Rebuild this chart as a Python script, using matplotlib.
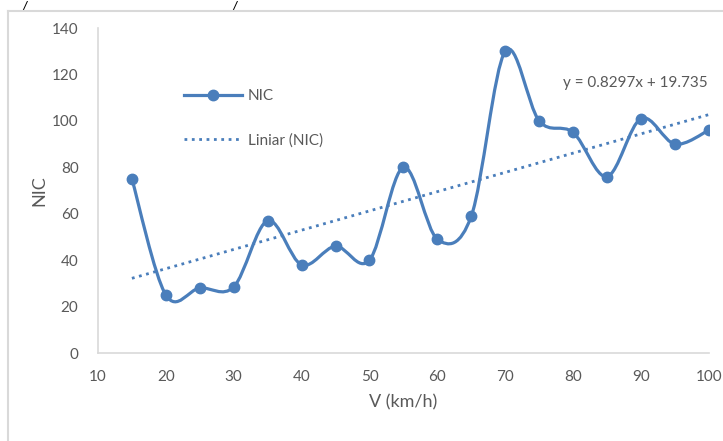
import matplotlib.pyplot as plt
import numpy as np
from matplotlib.path import Path
from matplotlib.patches import PathPatch
from matplotlib.lines import Line2D

plt.rcParams['font.family'] = ['Lato', 'DejaVu Sans']

# data
speed = [15, 20, 25, 30, 35, 40, 45, 50, 55, 60, 65, 70, 75, 80, 85, 90, 95, 100]
nic = [75, 25, 28, 28.5, 57, 38, 46, 40, 80, 49, 59, 130, 100, 95, 76, 101, 90, 96]
trend_slope = 0.8297
trend_icept = 19.735
trend_label = 'y = 0.8297x + 19.735'

blue = '#4a7ebb'
gray_txt = '#595959'
gray_line = '#d9d9d9'

fig = plt.figure(figsize=(7.23, 4.41), dpi=100)
ax = fig.add_axes([0.1355, 0.1995, 0.845, 0.737])

# smoothed line like excel (cardinal spline as bezier segments)
pts = np.column_stack([speed, nic]).astype(float)
verts = [pts[0]]
codes = [Path.MOVETO]
n = len(pts)
for i in range(n - 1):
    p0 = pts[max(i - 1, 0)]
    p1 = pts[i]
    p2 = pts[i + 1]
    p3 = pts[min(i + 2, n - 1)]
    c1 = p1 + (p2 - p0) / 6.0
    c2 = p2 - (p3 - p1) / 6.0
    verts += [c1, c2, p2]
    codes += [Path.CURVE4] * 3
ax.add_patch(PathPatch(Path(verts, codes), fill=False, edgecolor=blue, lw=2.3,
                       capstyle='round', joinstyle='round', zorder=3))
ax.plot(speed, nic, 'o', color=blue, ms=7.5, zorder=4)

# linear trend
tx = np.array([speed[0], speed[-1]])
ax.plot(tx, trend_slope * tx + trend_icept, ':', color=blue, lw=2, zorder=2)
fig.text(563 / 723, 1 - 83 / 441, trend_label, fontsize=11, color=gray_txt,
         va='center', ha='left')

ax.set_xlim(10, 100)
ax.set_ylim(0, 140)
ax.set_xticks(range(10, 101, 10))
ax.set_yticks(range(0, 141, 20))
ax.tick_params(length=0, labelsize=11, labelcolor=gray_txt, pad=12)
ax.tick_params(axis='y', pad=14)
for s in ['top', 'right']:
    ax.spines[s].set_visible(False)
for s in ['left', 'bottom']:
    ax.spines[s].set_color(gray_line)
    ax.spines[s].set_linewidth(1.2)
ax.set_xlabel('V (km/h)', fontsize=13, color=gray_txt, labelpad=8)
ax.set_ylabel('NIC', fontsize=13, color=gray_txt, labelpad=3)

handles = [Line2D([], [], color=blue, lw=2.3, marker='o', ms=7.5),
           Line2D([], [], color=blue, lw=2, ls=':')]
leg = ax.legend(handles, ['NIC', 'Liniar (NIC)'], loc='upper left',
                bbox_to_anchor=(0.118, 0.855), frameon=False, fontsize=11,
                handlelength=3.8, labelspacing=2.0, handletextpad=0.4)
for t in leg.get_texts():
    t.set_color(gray_txt)

# chart border (left and top edges visible)
fig.add_artist(Line2D([8 / 723, 8 / 723], [0, 1 - 11 / 441], color=gray_line, lw=1.5))
fig.add_artist(Line2D([8 / 723, 1], [1 - 11 / 441, 1 - 11 / 441], color=gray_line, lw=1.5))
fig.text(22 / 723, 1 - 5 / 441, '/', fontsize=8, style='italic', fontweight='bold', va='center')
fig.text(232 / 723, 1 - 5 / 441, '/', fontsize=8, style='italic', fontweight='bold', va='center')

plt.savefig('out.png', dpi=100)
